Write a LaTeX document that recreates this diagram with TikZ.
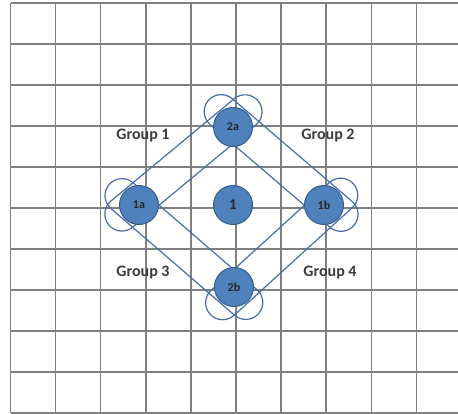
\documentclass[tikz,border=0pt]{standalone}
\usepackage{fontspec}
\setmainfont{Carlito}
\usetikzlibrary{calc,backgrounds}
\definecolor{nodeblue}{RGB}{79,129,189}
\definecolor{nodeedge}{RGB}{56,93,138}
\definecolor{bandblue}{RGB}{70,110,168}
\definecolor{labelgray}{RGB}{60,60,60}
\begin{document}
\begin{tikzpicture}[x=1pt, y=1pt, font=\bfseries]

% Estilos de la figura
\tikzset{
    member/.style={
        circle,
        fill=nodeblue,
        draw=nodeedge,
        line width=1pt,
        minimum size=39pt,
        inner sep=0pt,
        font=\bfseries\fontsize{12}{12}\selectfont,
        text=black!85
    },
    grouplabel/.style={font=\bfseries\fontsize{16}{16}\selectfont, text=labelgray},
    band/.style={draw=bandblue, line width=1.2pt},
    gridline/.style={draw=black!50, line width=1.5pt}
}

\useasboundingbox (0,0) rectangle (458,414);

% =============================================
% NODOS
% =============================================
\node[member] (n1a) at (139,209) {1a};
\node[member, font=\bfseries\fontsize{15}{15}\selectfont] (n1) at (233,209) {1};
\node[member] (n1b) at (324,209) {1b};
\node[member] (n2a) at (233,287) {2a};
\node[member] (n2b) at (234,127) {2b};

% Etiquetas de los grupos
\node[grouplabel] (g1) at (143,278) {Group 1};
\node[grouplabel] (g2) at (328,278) {Group 2};
\node[grouplabel] (g3) at (143,141) {Group 3};
\node[grouplabel] (g4) at (330,141) {Group 4};

\begin{pgfonlayer}{background}
    % Cuadricula
    \foreach \k in {0,...,9}
        \draw[gridline] (10.5+45.1*\k, 1) -- (10.5+45.1*\k, 411);
    \foreach \k in {0,...,10}
        \draw[gridline] (10.5, 1+41*\k) -- (458, 1+41*\k);

    % Bandas que unen cada par de nodos
    \foreach \a/\b in {n1a/n2a, n2a/n1b, n1b/n2b, n2b/n1a}
        \draw[band] let \p1=($(\b)-(\a)$), \n1={atan2(\y1,\x1)} in
            ($(\a)+(\n1+180:19pt)+(\n1-90:13pt)$) -- ($(\b)+(\n1:19pt)+(\n1-90:13pt)$)
            arc[start angle=\n1-90, delta angle=180, radius=17pt]
            -- ($(\a)+(\n1+180:19pt)+(\n1+90:21pt)$)
            arc[start angle=\n1+90, delta angle=180, radius=17pt] -- cycle;
\end{pgfonlayer}

\end{tikzpicture}
\end{document}
